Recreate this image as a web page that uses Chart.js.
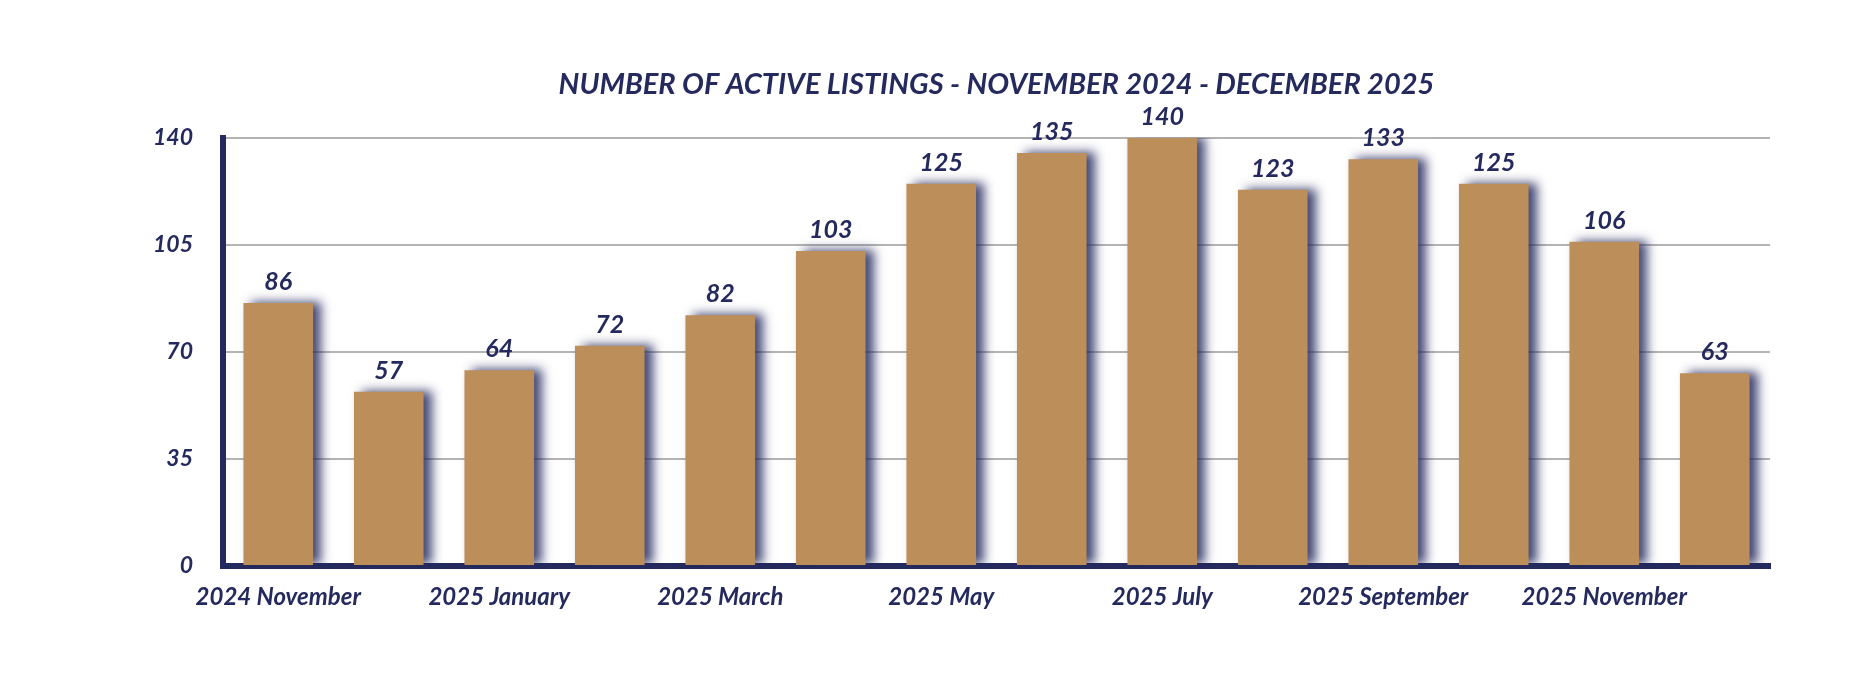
<!DOCTYPE html>
<html>
<head>
<meta charset="utf-8">
<script src="https://cdn.jsdelivr.net/npm/chart.js@4/dist/chart.umd.min.js"></script>
<style>
html,body{margin:0;padding:0;background:#fff;}
#wrap{width:1854px;height:690px;}
</style>
</head>
<body>
<div id="wrap"><canvas id="c" width="1854" height="690"></canvas></div>
<script>
const categories = ["2024 November","2024 December","2025 January","2025 February","2025 March","2025 April","2025 May","2025 June","2025 July","2025 August","2025 September","2025 October","2025 November","2025 December"];
const activeListings = [86,57,64,72,82,103,125,135,140,123,133,125,106,63];
const yTicks = [0,35,70,105,140];
const titleText = "NUMBER OF ACTIVE LISTINGS - NOVEMBER 2024 - DECEMBER 2025";

const NAVY = "#252A5E";
const GOLD = "#BC8E5A";
const FONT = "Lato, 'Open Sans', sans-serif";

const shadowPlugin = {
  id: "barShadow",
  beforeDatasetsDraw(chart) {
    const ctx = chart.ctx;
    ctx.save();
    ctx.shadowColor = "rgba(37,42,94,0.85)";
    ctx.shadowBlur = 10;
    ctx.shadowOffsetX = 8;
    ctx.shadowOffsetY = -1;
  },
  afterDatasetsDraw(chart) {
    const ctx = chart.ctx;
    ctx.restore();
    const meta = chart.getDatasetMeta(0);
    ctx.save();
    ctx.fillStyle = NAVY;
    ctx.font = "italic bold 25px " + FONT;
    ctx.textAlign = "center";
    ctx.textBaseline = "alphabetic";
    meta.data.forEach((bar, i) => {
      ctx.fillText(String(chart.data.datasets[0].data[i]), bar.x, bar.y - 13);
    });
    ctx.restore();
  }
};

new Chart(document.getElementById("c"), {
  type: "bar",
  data: {
    labels: categories,
    datasets: [{
      data: activeListings,
      backgroundColor: GOLD,
      borderWidth: 0,
      categoryPercentage: 1,
      barPercentage: 0.63
    }]
  },
  plugins: [shadowPlugin],
  options: {
    responsive: false,
    animation: false,
    devicePixelRatio: 1,
    layout: { padding: { left: 0, right: 84, top: 0, bottom: 0 } },
    plugins: {
      legend: { display: false },
      tooltip: { enabled: false },
      title: {
        display: true,
        text: titleText,
        fullSize: false,
        color: NAVY,
        font: { family: FONT, size: 29, style: "italic", weight: "bold" },
        padding: { top: 67, bottom: 36 }
      }
    },
    scales: {
      x: {
        grid: { display: false, drawTicks: false },
        border: { display: true, color: NAVY, width: 6 },
        ticks: {
          color: NAVY,
          font: { family: FONT, size: 24, style: "italic", weight: "bold" },
          padding: 17,
          autoSkip: false,
          maxRotation: 0,
          callback: function(v, i) { return i % 2 === 0 ? categories[i] : ""; }
        },
        afterFit(scale) { scale.height = 124; }
      },
      y: {
        min: 0,
        max: 140,
        afterBuildTicks(scale) { scale.ticks = yTicks.map(v => ({ value: v })); },
        grid: { color: "#b4b4b4", lineWidth: 2, drawTicks: false },
        border: { display: true, color: NAVY, width: 6 },
        ticks: {
          color: NAVY,
          font: { family: FONT, size: 23, style: "italic", weight: "bold" },
          padding: 30
        },
        afterFit(scale) { scale.width = 223; }
      }
    }
  }
});
</script>
</body>
</html>
